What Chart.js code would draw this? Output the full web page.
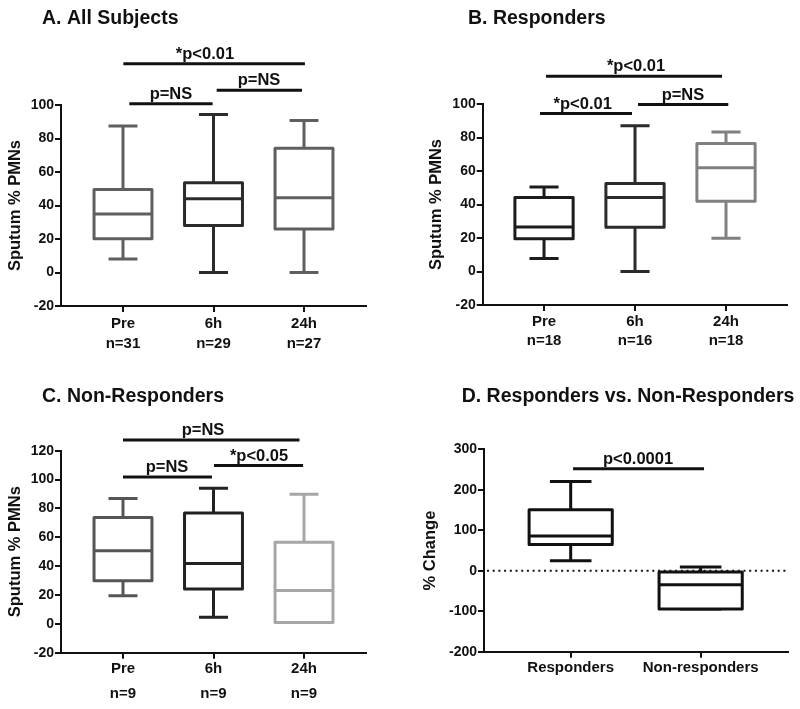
<!DOCTYPE html>
<html><head><meta charset="utf-8">
<script src="https://cdn.jsdelivr.net/npm/chart.js@4"></script>
<style>
html,body{margin:0;padding:0;background:#fff;}
#wrap{position:relative;width:800px;height:709px;overflow:hidden;background:#fff;}
canvas{position:absolute;}
</style></head><body>
<div id="wrap">
<canvas id="cA" style="left:0;top:0" width="400" height="360"></canvas>
<canvas id="cB" style="left:400px;top:0" width="400" height="360"></canvas>
<canvas id="cC" style="left:0;top:340px" width="400" height="369"></canvas>
<canvas id="cD" style="left:400px;top:340px" width="400" height="369"></canvas>
</div>
<script>
// ---------- DATA ----------
const timeCats = ['Pre', '6h', '24h'];
const groupCats = ['Responders', 'Non-responders'];

// Panel A: All Subjects
const nA = ['n=31', 'n=29', 'n=27'];
const aMin = [8, 0, 0];
const aQ1 = [20.2, 28, 26];
const aMed = [35, 44, 44.6];
const aQ3 = [49.6, 53.6, 74.2];
const aMax = [87.5, 94.4, 90.8];
const aSigFrom = [0.004, 0.07, 1.035];
const aSigTo = [2.01, 0.99, 1.978];
const aSigY = [124.6, 100.8, 108.8];
const aSigTextX = [0.906, 0.53, 1.503];
const aSigText = ['*p<0.01', 'p=NS', 'p=NS'];

// Panel B: Responders
const nB = ['n=18', 'n=16', 'n=18'];
const bMin = [7.8, 0, 19.9];
const bQ1 = [19.5, 26.4, 42];
const bMed = [26.6, 44.2, 62];
const bQ3 = [44.2, 52.5, 76.4];
const bMax = [50.5, 87, 83.3];
const bSigFrom = [0.022, -0.044, 1.033];
const bSigTo = [1.956, 0.967, 2.025];
const bSigY = [116.6, 94.3, 99.7];
const bSigTextX = [1.011, 0.425, 1.527];
const bSigText = ['*p<0.01', '*p<0.01', 'p=NS'];

// Panel C: Non-Responders
const nC = ['n=9', 'n=9', 'n=9'];
const cMin = [19.4, 4.6, 0.9];
const cQ1 = [29.8, 24.2, 0.9];
const cMed = [50.6, 41.8, 23.1];
const cQ3 = [73.7, 76.9, 56.6];
const cMax = [86.8, 94, 89.8];
const cSigFrom = [0, 0, 1.005];
const cSigTo = [1.95, 0.983, 1.99];
const cSigY = [127.5, 101.7, 109.7];
const cSigTextX = [0.884, 0.486, 1.503];
const cSigText = ['p=NS', 'p=NS', '*p<0.05'];

// Panel D: % Change
const dMin = [24.7, -94.7];
const dQ1 = [65, -94.7];
const dMed = [85.7, -34.6];
const dQ3 = [150.7, -3];
const dMax = [220.7, 9];
const dSigFrom = [0.018];
const dSigTo = [1.026];
const dSigY = [252];
const dSigTextX = [0.518];
const dSigText = ['p<0.0001'];

// ---------- RENDERING ----------
const FAM = "'Liberation Sans', Arial, Helvetica, sans-serif";
Chart.defaults.font.family = FAM;
Chart.defaults.color = '#111';

const boxPlugin = {
  id: 'boxes',
  afterDraw(chart, args, o) {
    const ctx = chart.ctx;
    const xs = chart.scales.x, ys = chart.scales.y;
    const ca = chart.chartArea;
    ctx.save();
    if (o.zeroLine) {
      ctx.beginPath();
      ctx.setLineDash([2, 3.7]);
      ctx.lineWidth = 2;
      ctx.strokeStyle = '#111';
      const y0 = ys.getPixelForValue(0);
      ctx.moveTo(ca.left + 3, y0);
      ctx.lineTo(ca.right, y0);
      ctx.stroke();
      ctx.setLineDash([]);
    }
    const n = o.med.length;
    ctx.lineJoin = 'round';
    ctx.lineCap = 'butt';
    for (let i = 0; i < n; i++) {
      const cx = xs.getPixelForValue(i);
      const hw = xs.getPixelForValue(i + 0.32) - cx;
      const cw = xs.getPixelForValue(i + 0.16) - cx;
      const pMin = ys.getPixelForValue(o.min[i]);
      const pQ1 = ys.getPixelForValue(o.q1[i]);
      const pMed = ys.getPixelForValue(o.med[i]);
      const pQ3 = ys.getPixelForValue(o.q3[i]);
      const pMax = ys.getPixelForValue(o.max[i]);
      ctx.strokeStyle = o.colors[i];
      ctx.lineWidth = 3;
      // whiskers
      ctx.beginPath();
      ctx.moveTo(cx, pQ3); ctx.lineTo(cx, pMax);
      ctx.moveTo(cx - cw, pMax); ctx.lineTo(cx + cw, pMax);
      ctx.moveTo(cx, pQ1); ctx.lineTo(cx, pMin);
      ctx.moveTo(cx - cw, pMin); ctx.lineTo(cx + cw, pMin);
      ctx.stroke();
      // box
      ctx.fillStyle = '#fff';
      ctx.fillRect(cx - hw, pQ3, 2 * hw, pQ1 - pQ3);
      ctx.beginPath();
      ctx.rect(cx - hw, pQ3, 2 * hw, pQ1 - pQ3);
      ctx.stroke();
      // median
      ctx.beginPath();
      ctx.moveTo(cx - hw, pMed); ctx.lineTo(cx + hw, pMed);
      ctx.stroke();
    }
    // significance bars
    ctx.strokeStyle = '#111';
    ctx.fillStyle = '#111';
    ctx.lineWidth = 3;
    ctx.font = 'bold 16.5px ' + FAM;
    ctx.textAlign = 'center';
    ctx.textBaseline = 'alphabetic';
    for (let k = 0; k < o.sigY.length; k++) {
      const py = ys.getPixelForValue(o.sigY[k]);
      ctx.beginPath();
      ctx.moveTo(xs.getPixelForValue(o.sigFrom[k]), py);
      ctx.lineTo(xs.getPixelForValue(o.sigTo[k]), py);
      ctx.stroke();
      ctx.fillText(o.sigText[k], xs.getPixelForValue(o.sigTextX[k]), py - 5);
    }
    // panel title
    ctx.font = 'bold 19.5px ' + FAM;
    ctx.textAlign = 'left';
    ctx.fillText(o.title, o.titleX, o.titleY);
    ctx.restore();
  }
};

function makePanel(id, p) {
  return new Chart(document.getElementById(id), {
    type: 'scatter',
    data: { datasets: [{ data: p.med.map((v, i) => ({ x: i, y: v })), pointRadius: 0, showLine: false }] },
    options: {
      responsive: false,
      animation: false,
      events: [],
      layout: { padding: p.pad },
      plugins: {
        legend: { display: false },
        tooltip: { enabled: false },
        boxes: {
          min: p.min, q1: p.q1, med: p.med, q3: p.q3, max: p.max, colors: p.colors,
          sigFrom: p.sigFrom, sigTo: p.sigTo, sigY: p.sigY, sigText: p.sigText, sigTextX: p.sigTextX,
          title: p.title, titleX: p.titleX, titleY: p.titleY, zeroLine: !!p.zeroLine
        }
      },
      scales: {
        x: {
          type: 'linear',
          min: p.xMin, max: p.xMax,
          afterFit: s => { s.height = p.xH; },
          afterBuildTicks: s => { s.ticks = p.cats.map((c, i) => ({ value: i })); },
          ticks: {
            autoSkip: false, maxRotation: 0,
            padding: p.xPad,
            color: '#111',
            font: { size: 15, weight: 'bold', lineHeight: p.xLH },
            callback: (v) => p.ns ? [p.cats[v], p.ns[v]] : p.cats[v]
          },
          grid: { display: true, drawOnChartArea: false, drawTicks: true, tickLength: 6, color: '#111', lineWidth: 2 },
          border: { display: true, color: '#111', width: 2 }
        },
        y: {
          min: p.yMin, max: p.yMax,
          afterFit: s => { s.width = p.yW; },
          ticks: { stepSize: p.yStep, padding: 1, color: '#111', font: { size: 14, weight: 'bold' } },
          grid: { display: true, drawOnChartArea: false, drawTicks: true, tickLength: 6, color: '#111', lineWidth: 2 },
          border: { display: true, color: '#111', width: 2 },
          title: { display: true, text: p.yTitle, color: '#111', font: { size: 16.5, weight: 'bold' }, padding: { top: 3, bottom: 0 } }
        }
      }
    },
    plugins: [boxPlugin]
  });
}

makePanel('cA', {
  cats: timeCats, ns: nA, min: aMin, q1: aQ1, med: aMed, q3: aQ3, max: aMax,
  colors: ['#5f5f5f', '#2b2b2b', '#5f5f5f'],
  sigFrom: aSigFrom, sigTo: aSigTo, sigY: aSigY, sigText: aSigText, sigTextX: aSigTextX,
  title: 'A. All Subjects', titleX: 42, titleY: 24,
  pad: { left: 2.8, right: 34, top: 105, bottom: 0 }, yW: 58.2, xH: 54,
  xMin: -0.685, xMax: 2.685, yMin: -20, yMax: 100, yStep: 20,
  xPad: 1.6, xLH: 20 / 15, yTitle: 'Sputum % PMNs'
});
makePanel('cB', {
  cats: timeCats, ns: nB, min: bMin, q1: bQ1, med: bMed, q3: bQ3, max: bMax,
  colors: ['#1c1c1c', '#2b2b2b', '#808080'],
  sigFrom: bSigFrom, sigTo: bSigTo, sigY: bSigY, sigText: bSigText, sigTextX: bSigTextX,
  title: 'B. Responders', titleX: 68, titleY: 24,
  pad: { left: 23.1, right: 13.3, top: 104, bottom: 0 }, yW: 59.6, xH: 55,
  xMin: -0.674, xMax: 2.667, yMin: -20, yMax: 100, yStep: 20,
  xPad: 2.1, xLH: 18.4 / 15, yTitle: 'Sputum % PMNs'
});
makePanel('cC', {
  cats: timeCats, ns: nC, min: cMin, q1: cQ1, med: cMed, q3: cQ3, max: cMax,
  colors: ['#555555', '#222222', '#a6a6a6'],
  sigFrom: cSigFrom, sigTo: cSigTo, sigY: cSigY, sigText: cSigText, sigTextX: cSigTextX,
  title: 'C. Non-Responders', titleX: 42, titleY: 61.7,
  pad: { left: 2.8, right: 34, top: 110.7, bottom: 0 }, yW: 58.2, xH: 56.3,
  xMin: -0.685, xMax: 2.685, yMin: -20, yMax: 120, yStep: 20,
  xPad: -2.2, xLH: 25 / 15, yTitle: 'Sputum % PMNs'
});
makePanel('cD', {
  cats: groupCats, ns: null, min: dMin, q1: dQ1, med: dMed, q3: dQ3, max: dMax,
  colors: ['#111111', '#111111'],
  sigFrom: dSigFrom, sigTo: dSigTo, sigY: dSigY, sigText: dSigText, sigTextX: dSigTextX,
  title: 'D. Responders vs. Non-Responders', titleX: 61.7, titleY: 61.7,
  pad: { left: 17.1, right: 12, top: 109.3, bottom: 0 }, yW: 66.9, xH: 57.3,
  xMin: -0.667, xMax: 1.672, yMin: -200, yMax: 300, yStep: 100,
  xPad: 1.3, xLH: 1.2, yTitle: '% Change', zeroLine: true
});
</script>
</body></html>
